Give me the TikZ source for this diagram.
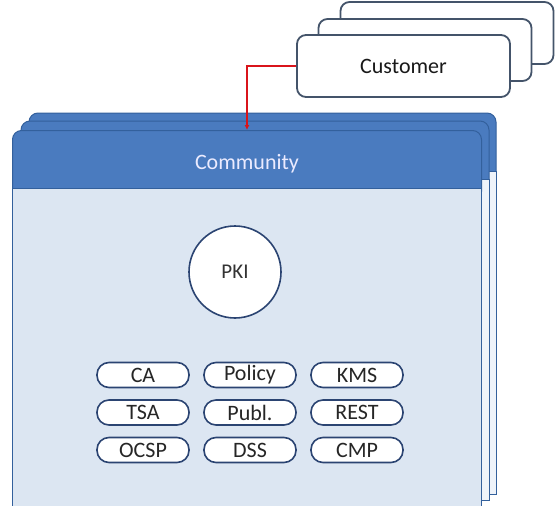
\documentclass[tikz,border=0pt]{standalone}
\usepackage{fontspec}
\setmainfont{Carlito}
\usetikzlibrary{positioning,arrows.meta}
\definecolor{hdrblue}{HTML}{4A7BBF}
\definecolor{hdrline}{HTML}{33609C}
\definecolor{bodyblue}{HTML}{DCE6F2}
\definecolor{backbody}{HTML}{EEF3FA}
\definecolor{boxline}{HTML}{44546A}
\definecolor{pillline}{HTML}{2B4472}
\definecolor{linkred}{HTML}{D9141B}

\tikzset{
  custbox/.style={draw=boxline, line width=1.8pt, fill=white, rounded corners=9pt,
    minimum width=213pt, minimum height=62pt, font=\fontsize{22}{22}\selectfont},
  header/.style={draw=hdrline, line width=1pt, fill=hdrblue, rounded corners=9pt},
  panel/.style={draw=hdrline, line width=1pt},
  pill/.style={draw=pillline, line width=1.6pt, fill=white, rounded corners=12pt,
    minimum width=92pt, minimum height=25pt, inner sep=0pt,
    text=black!85, font=\fontsize{22}{22}\selectfont},
}

\begin{document}
\begin{tikzpicture}[x=1pt,y=-1pt]
\useasboundingbox (0,0) rectangle (555,506);

% customer stack
\node[custbox] (customer3) at (447,33) {};
\node[custbox] (customer2) at (425,50) {};
\node[custbox, text=black!90] (customer) at (403.5,66) {Customer};

% community stack, back to front
\foreach \xa/\ya/\xb/\yb in {29/113/496/494, 21/121/489/500} {
    \draw[header] (\xa,\ya) rectangle (\xb,\ya+70);
    \filldraw[panel, fill=backbody] (\xa,\ya+58) rectangle (\xb,\yb);
}
\node[header, anchor=north, minimum width=469pt, minimum height=70pt, text depth=8pt,
  text=blue!8, font=\fontsize{22}{22}\selectfont] (community) at (247,130) {Community};
\filldraw[panel, fill=bodyblue] (12.5,188) rectangle (481.5,510);

\node[circle, draw=pillline, line width=1.6pt, fill=white, minimum size=92pt,
  text=black!80, font=\fontsize{21}{21}\selectfont] (pki) at (235,272) {PKI};

\foreach \lbl/\nm [count=\i from 0] in {CA/ca, Policy/policy, KMS/kms,
    TSA/tsa, Publ./publ, REST/rest, OCSP/ocsp, DSS/dss, CMP/cmp} {
    \pgfmathtruncatemacro{\col}{mod(\i,3)}
    \pgfmathtruncatemacro{\row}{int(\i/3)}
    \node[pill] (\nm) at (143+107*\col, 375+37.5*\row) {\lbl};
}

\draw[linkred, line width=1.5pt, -{Latex[length=5pt,width=5pt]}] (customer.west) -| (community.north);
\end{tikzpicture}
\end{document}
